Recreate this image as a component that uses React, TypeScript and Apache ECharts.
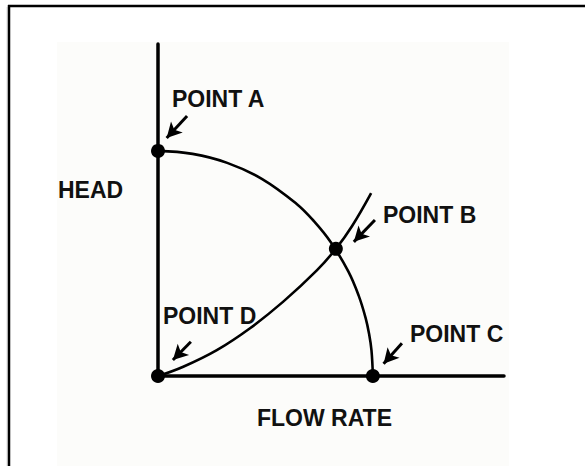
import React, { useEffect, useRef } from "react";
import * as echarts from "echarts";

// Pump curve (head vs flow)
const pumpCurve: [number, number][] = [
  [0, 67.8], [10, 66.9], [20, 64.2], [30, 59.4], [40, 51.9], [45, 46.7],
  [50, 40.2], [55, 31.5], [58, 24.2], [60, 17.5], [61, 12.7], [61.7, 7.7], [62.1, 0],
];
// System curve
const systemCurve: [number, number][] = [
  [0, 0], [7.3, 2.8], [17.0, 7.8], [26.6, 14.4], [36.2, 22.4], [45.9, 31.8],
  [51.4, 38.3], [56.1, 45.2], [61.6, 55.1],
];
// Marked points
const pointNames = ["POINT A", "POINT B", "POINT C", "POINT D"];
const pointValues: [number, number][] = [[0, 67.8], [51.4, 38.3], [62.1, 0], [0, 0]];
// Arrows: [tail, head]
const arrowTails: [number, number][] = [[8.4, 78.3], [62.7, 47.0], [70.5, 9.9], [9.5, 10.3]];
const arrowHeads: [number, number][] = [[2.5, 71.7], [56.6, 40.4], [65.2, 3.7], [4.3, 4.8]];
// Axis titles
const yTitle = "HEAD";
const xTitle = "FLOW RATE";

const FONT = "'Liberation Sans', Arial, sans-serif";

export default function App() {
  const ref = useRef<HTMLDivElement>(null);
  useEffect(() => {
    if (!ref.current) return;
    const chart = echarts.init(ref.current, undefined, { renderer: "svg" });
    const labelPos: [number, number][] = [[172, 99], [383, 215], [410, 333.5], [163, 315.5]];
    const textStyle = (t: string) => ({
      text: t,
      fill: "#111",
      font: `bold 23px ${FONT}`,
      verticalAlign: "middle",
      align: "left",
    });
    chart.setOption({
      animation: false,
      backgroundColor: "#ffffff",
      grid: { left: 158, top: 44, right: 81, bottom: 90 },
      xAxis: {
        type: "value", min: 0, max: 100,
        axisLine: { show: true, lineStyle: { color: "#000", width: 3.5 } },
        axisTick: { show: false }, axisLabel: { show: false }, splitLine: { show: false },
      },
      yAxis: {
        type: "value", min: 0, max: 100,
        axisLine: { show: true, lineStyle: { color: "#000", width: 3.5 } },
        axisTick: { show: false }, axisLabel: { show: false }, splitLine: { show: false },
      },
      graphic: [
        { type: "rect", z: -10, shape: { x: 57, y: 42, width: 452, height: 430 }, style: { fill: "#fcfcfa" } },
        { type: "line", shape: { x1: 8, y1: 6, x2: 585, y2: 6 }, style: { stroke: "#000", lineWidth: 2.5 } },
        { type: "line", shape: { x1: 9, y1: 5, x2: 9, y2: 466 }, style: { stroke: "#000", lineWidth: 2.5 } },
        { type: "line", shape: { x1: 7.3, y1: 7, x2: 7.3, y2: 466 }, style: { stroke: "#aaa", lineWidth: 1 } },
        ...pointNames.map((n, i) => ({ type: "text", x: labelPos[i][0], y: labelPos[i][1], style: textStyle(n) })),
        { type: "text", x: 58, y: 189.5, style: textStyle(yTitle) },
        { type: "text", x: 257, y: 418, style: textStyle(xTitle) },
      ],
      series: [
        {
          type: "line", data: pumpCurve, smooth: 0.4, showSymbol: false, symbol: "none",
          lineStyle: { color: "#000", width: 2.6 }, silent: true,
        },
        {
          type: "line", data: systemCurve, smooth: 0.4, showSymbol: false, symbol: "none",
          lineStyle: { color: "#000", width: 2.6 }, silent: true,
        },
        {
          type: "scatter", data: pointValues, symbol: "circle", symbolSize: 14,
          itemStyle: { color: "#000", opacity: 1 }, silent: true, z: 5,
          markLine: {
            silent: true,
            symbol: ["none", "arrow"],
            symbolSize: [12, 15],
            label: { show: false },
            lineStyle: { color: "#000", width: 3, type: "solid", opacity: 1 },
            emphasis: { disabled: true },
            data: arrowTails.map((t, i) => [{ coord: t }, { coord: arrowHeads[i] }]),
          },
        },
      ],
    });
    return () => chart.dispose();
  }, []);
  return <div ref={ref} style={{ position: "fixed", left: 0, top: 0, width: 585, height: 466 }} />;
}
